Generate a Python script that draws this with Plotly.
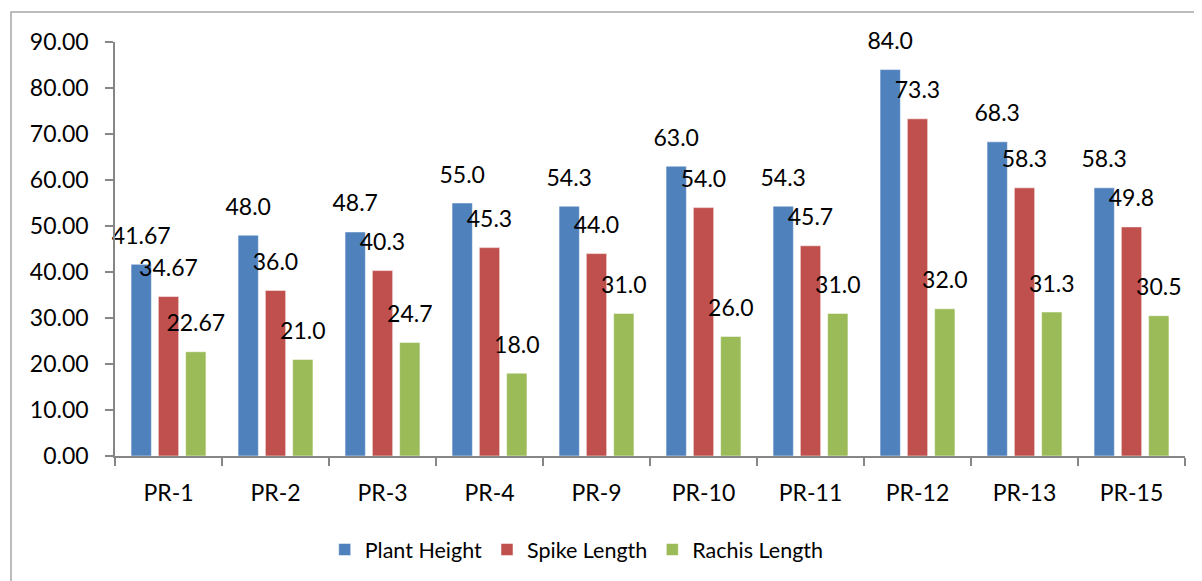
import plotly.graph_objects as go

categories = ["PR-1", "PR-2", "PR-3", "PR-4", "PR-9", "PR-10", "PR-11", "PR-12", "PR-13", "PR-15"]
plant_height = [41.67, 48.0, 48.7, 55.0, 54.3, 63.0, 54.3, 84.0, 68.3, 58.3]
spike_length = [34.67, 36.0, 40.3, 45.3, 44.0, 54.0, 45.7, 73.3, 58.3, 49.8]
rachis_length = [22.67, 21.0, 24.7, 18.0, 31.0, 26.0, 31.0, 32.0, 31.3, 30.5]
plant_labels = ["41.67", "48.0", "48.7", "55.0", "54.3", "63.0", "54.3", "84.0", "68.3", "58.3"]
spike_labels = ["34.67", "36.0", "40.3", "45.3", "44.0", "54.0", "45.7", "73.3", "58.3", "49.8"]
rachis_labels = ["22.67", "21.0", "24.7", "18.0", "31.0", "26.0", "31.0", "32.0", "31.3", "30.5"]
y_ticks = [0, 10, 20, 30, 40, 50, 60, 70, 80, 90]

series = [
    ("Plant Height", plant_height, plant_labels, "#4F81BD", -0.255),
    ("Spike Length", spike_length, spike_labels, "#C0504D", 0.0),
    ("Rachis Length", rachis_length, rachis_labels, "#9BBB59", 0.255),
]
bar_w = 0.19
FONT = "Lato"

fig = go.Figure()
xs = list(range(len(categories)))
for name, vals, labs, col, off in series:
    fig.add_trace(go.Bar(
        x=[x + off for x in xs], y=vals, width=bar_w, name=name,
        marker=dict(color=col, line=dict(color="rgba(255,255,255,0.5)", width=1)),
    ))
for name, vals, labs, col, off in series:
    fig.add_trace(go.Scatter(
        x=[x + off for x in xs], y=vals, text=labs, mode="markers+text",
        textposition="top center", showlegend=False, hoverinfo="skip",
        marker=dict(size=22, color="rgba(0,0,0,0)"),
        textfont=dict(family=FONT, size=23, color="#000000"), cliponaxis=False,
    ))

fig.update_layout(
    width=1194, height=573,
    margin=dict(l=107, r=17, t=34, b=124),
    paper_bgcolor="white", plot_bgcolor="white",
    barmode="overlay",
    font=dict(family=FONT, size=20, color="#000000"),
    showlegend=True,
    legend=dict(orientation="h", x=0.196, xanchor="left", y=-0.223, yanchor="middle",
                font=dict(family=FONT, size=21.5), traceorder="normal", itemwidth=30),
    shapes=[dict(type="rect", xref="paper", yref="paper",
                 x0=-0.0972, x1=1.2, y0=-0.5, y1=1.0723,
                 line=dict(color="#A6A6A6", width=1.5), layer="below")],
)
fig.update_xaxes(
    range=[-0.5, len(categories) - 0.5],
    tickmode="array", tickvals=xs, ticktext=categories, ticks="",
    showline=True, linecolor="#868686", linewidth=1.5, showgrid=False, zeroline=False,
    minor=dict(tickmode="linear", tick0=-0.5, dtick=1, ticks="outside", ticklen=8,
               tickcolor="#868686", tickwidth=1.5, showgrid=False),
    ticklabelstandoff=16, tickfont=dict(family=FONT, size=23),
)
fig.update_yaxes(
    range=[0, 90], tickmode="array", tickvals=y_ticks,
    ticktext=[f"{v:.2f}" for v in y_ticks],
    ticks="outside", ticklen=8, tickcolor="#868686", tickwidth=1.5,
    showline=True, linecolor="#868686", linewidth=1.5, showgrid=False, zeroline=False,
    ticklabelstandoff=12, tickfont=dict(family=FONT, size=23),
)

fig.write_html("out.html")
